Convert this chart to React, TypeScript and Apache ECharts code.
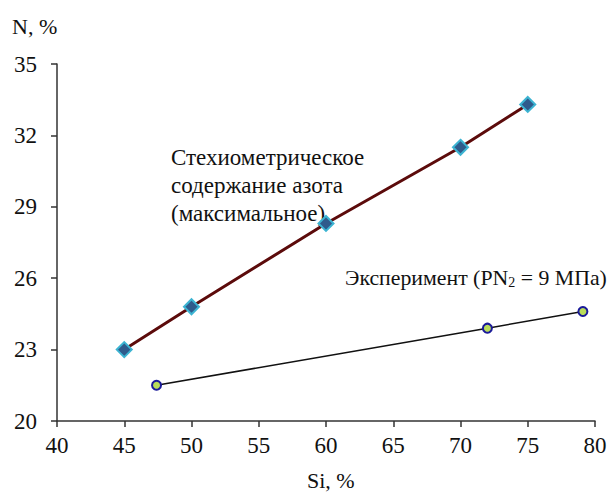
import React, { useEffect, useRef } from "react";
import * as echarts from "echarts";

const stoichSi = [45, 50, 60, 70, 75];
const stoichN = [23.0, 24.8, 28.3, 31.5, 33.3];
const expSi = [47.4, 72, 79.1];
const expN = [21.5, 23.9, 24.6];
const stoichLabel = ["Стехиометрическое", "содержание азота", "(максимальное)"];

const FONT = "Liberation Serif";

export default function App() {
  const ref = useRef<HTMLDivElement>(null);
  useEffect(() => {
    if (!ref.current) return;
    const chart = echarts.init(ref.current, null, { renderer: "svg" });
    chart.setOption({
      animation: false,
      backgroundColor: "#ffffff",
      textStyle: { fontFamily: FONT },
      grid: { left: 57, right: 16, top: 64, bottom: 71, containLabel: false },
      xAxis: {
        type: "value",
        min: 40,
        max: 80,
        interval: 5,
        splitLine: { show: false },
        axisLine: { lineStyle: { color: "#333", width: 1.5 } },
        axisTick: { show: true, length: 6, lineStyle: { color: "#333", width: 1.5 } },
        axisLabel: { color: "#111", fontFamily: FONT, fontSize: 23, margin: 13 },
      },
      yAxis: {
        type: "value",
        min: 20,
        max: 35,
        interval: 3,
        splitLine: { show: false },
        axisLine: { show: true, lineStyle: { color: "#333", width: 1.5 } },
        axisTick: { show: true, length: 6, lineStyle: { color: "#333", width: 1.5 } },
        axisLabel: { color: "#111", fontFamily: FONT, fontSize: 23, margin: 20 },
      },
      series: [
        {
          type: "line",
          data: stoichSi.map((x, i) => [x, stoichN[i]]),
          lineStyle: { color: "#5c0b0b", width: 3 },
          symbol: "diamond",
          symbolSize: 15,
          itemStyle: { color: "#2f5b8c", borderColor: "#3cb4d2", borderWidth: 2 },
          z: 3,
        },
        {
          type: "line",
          data: expSi.map((x, i) => [x, expN[i]]),
          lineStyle: { color: "#111", width: 1.5 },
          symbol: "circle",
          symbolSize: 9,
          itemStyle: { color: "#b9dc5a", borderColor: "#1a1a9a", borderWidth: 2 },
          z: 3,
        },
      ],
      graphic: [
        {
          type: "text",
          left: 12,
          top: 15,
          style: { text: "N, %", fontFamily: FONT, fontSize: 22, fill: "#111" },
        },
        {
          type: "text",
          left: 307,
          top: 469,
          style: { text: "Si, %", fontFamily: FONT, fontSize: 22, fill: "#111" },
        },
        {
          type: "text",
          left: 171,
          top: 143,
          style: {
            text: stoichLabel.join("\n"),
            fontFamily: FONT,
            fontSize: 23,
            lineHeight: 28,
            fill: "#111",
          },
        },
        {
          type: "text",
          left: 345,
          top: 267,
          style: {
            text: "{a|Эксперимент (PN}{c|2}{a| = 9 МПа)}",
            fill: "#111",
            rich: {
              a: { fontFamily: FONT, fontSize: 21.8, fill: "#111" },
              c: { fontFamily: FONT, fontSize: 14, fill: "#111", padding: [9, 0, 0, 0] },
            },
          },
        },
      ],
    });
    return () => chart.dispose();
  }, []);
  return (
    <div
      ref={ref}
      style={{ position: "fixed", left: 0, top: 0, width: 611, height: 492 }}
    />
  );
}
